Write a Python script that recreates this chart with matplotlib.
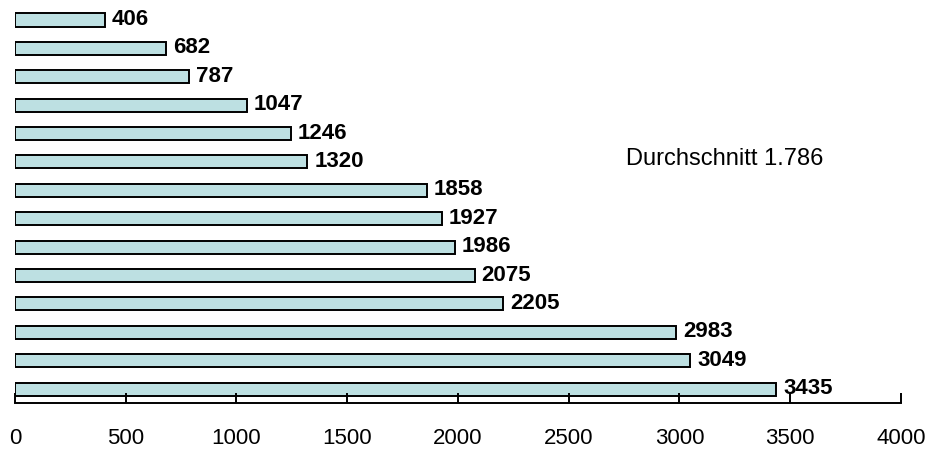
import numpy as np
import matplotlib.pyplot as plt

plt.rcParams['font.family'] = ['Liberation Sans', 'DejaVu Sans']

# Werte von oben nach unten
werte = [406, 682, 787, 1047, 1246, 1320, 1858, 1927, 1986, 2075, 2205, 2983, 3049, 3435]
durchschnitt_text = 'Durchschnitt 1.786'
x_ticks = [0, 500, 1000, 1500, 2000, 2500, 3000, 3500, 4000]

fig = plt.figure(figsize=(9.29, 4.56), dpi=100)
ax = fig.add_axes([15 / 929, 52 / 456, 886 / 929, 404 / 456])

# unten beginnen, damit der größte Wert unten liegt
vals = werte[::-1]
pos = np.arange(len(vals))
ax.barh(pos, vals, height=0.46, color='#bde0e2', edgecolor='black', linewidth=1.4)

for p, v in zip(pos, vals):
    ax.text(v + 32, p + 0.05, str(v), va='center', ha='left',
            fontsize=16, fontweight='bold')

ax.text(2760, 8.15, durchschnitt_text, va='center', ha='left', fontsize=17)

ax.set_xlim(0, 4000)
ax.set_ylim(-0.49, 13.74)
ax.set_xticks(x_ticks)
ax.set_xticklabels([str(t) for t in x_ticks], fontsize=16)
ax.tick_params(axis='x', direction='in', length=7, width=1.4, pad=17)
ax.set_yticks([])
for s in ['top', 'right', 'left']:
    ax.spines[s].set_visible(False)
ax.spines['bottom'].set_linewidth(1.4)

fig.savefig('out.png', dpi=100)
